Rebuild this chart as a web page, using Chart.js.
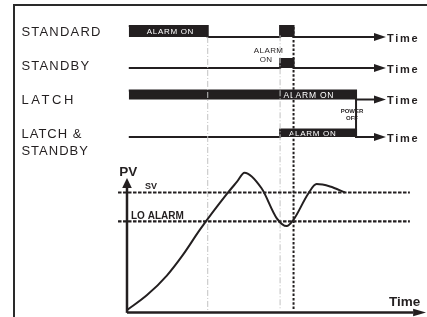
<!DOCTYPE html>
<html>
<head>
<meta charset="utf-8">
<script src="https://cdn.jsdelivr.net/npm/chart.js@4/dist/chart.umd.min.js"></script>
<style>
  html, body { margin: 0; padding: 0; background: #fff; }
  #wrap { position: relative; width: 427px; height: 317px; overflow: hidden; }
  #chart { position: absolute; left: 0; top: 0; }
  #frame { position: absolute; left: 13px; top: 4px; right: -4px; bottom: -4px;
           border-top: 2px solid #2a2a2a; border-left: 2px solid #2a2a2a; pointer-events: none; }
</style>
</head>
<body>
<div id="wrap">
  <canvas id="chart" width="427" height="317"></canvas>
  <div id="frame"></div>
</div>
<script>
// ---- timing rows (time in arbitrary units, 0 = start) ---- //
const rowLabels = ["STANDARD", "STANDBY", "LATCH", "LATCH &\nSTANDBY"];
const rowOn  = [[0.6, 51.2], [51.2], [0.6], [51.2]];
const rowOff = [[27, 55.7], [55.7], [76.6], [76.6]];
const rowStart = 0.6;
const rowEnd = 82.6;
const rowTip = 86.6;
const laneBase = [28, 24.9, 21.75, 18];
const laneHigh = [29.1, 25.8, 22.65, 18.75];
const barText = ["ALARM ON", null, "ALARM ON", "ALARM ON"];
const barTextTime = [14.4, null, 60.7, 62.0];

// ---- event markers ---- //
const guideTimes = [27, 51.2];
const resetTime = 55.7;
const powerOffTime = 76.6;

// ---- PV trace ---- //
const pvTime  = [0, 6.7, 13.4, 18.7, 24.4, 33.8, 36.8, 39.3, 45.0, 50.1, 53.4, 55.6, 60.6, 63.4, 67.9, 72.9];
const pvValue = [2, 14.5, 31, 48, 69, 100, 109, 116.5, 103.5, 78.5, 72, 77, 99, 107, 105, 100];
const svLevel = 100;
const loAlarmLevel = 76;
const axisEnd = 100;

const ink = "#231f20";
const font = '"Liberation Sans", Arial, sans-serif';

function signalPoints(i) {
    const ev = rowOn[i].map(t => [t, 1]).concat(rowOff[i].map(t => [t, 0]))
        .sort((a, b) => a[0] - b[0]);
    const lo = laneBase[i], hi = laneHigh[i];
    const pts = [];
    let state = 0;
    if (ev[0][0] > rowStart) pts.push({ x: rowStart, y: lo });
    for (const [t, s] of ev) {
        if (pts.length) pts.push({ x: t, y: state ? hi : lo });
        pts.push({ x: t, y: s ? hi : lo });
        state = s;
    }
    pts.push({ x: rowEnd, y: state ? hi : lo });
    return pts;
}

function seg(x1, y1, x2, y2, axis, extra) {
    return Object.assign({
        type: "line",
        data: [{ x: x1, y: y1 }, { x: x2, y: y2 }],
        xAxisID: "x", yAxisID: axis,
        borderColor: ink, borderWidth: 2,
        pointRadius: 0, fill: false, tension: 0
    }, extra || {});
}

const datasets = [];

rowLabels.forEach((name, i) => {
    datasets.push({
        type: "line",
        label: name,
        rowIndex: i,
        data: signalPoints(i),
        xAxisID: "x", yAxisID: "lane",
        borderColor: ink, borderWidth: 2,
        backgroundColor: ink,
        fill: { value: laneBase[i] },
        pointRadius: 0, tension: 0,
        order: 10
    });
});

// power off drop between LATCH and LATCH & STANDBY
datasets.push(seg(powerOffTime, laneBase[2], powerOffTime, laneBase[3], "lane", { order: 10 }));

// thin grey event guides
guideTimes.forEach((t, i) => {
    datasets.push(seg(t, i === 0 ? 229.6 : 231, t, 2.1, "pv",
        { borderColor: "#c2c2c2", borderWidth: 1, borderDash: [6, 2, 1, 2], order: 8 }));
});

// black dotted reset line
datasets.push(seg(resetTime, 237.9, resetTime, 2.1, "pv",
    { borderWidth: 2, borderDash: [2.5, 1.8], order: 1 }));

// SV and LO ALARM levels
[svLevel, loAlarmLevel].forEach(v => {
    datasets.push(seg(-3, v, 94.6, v, "pv", { borderWidth: 2.2, borderDash: [3.5, 1.5], order: 3 }));
});

// PV axes
datasets.push(seg(0, -0.3, 0, 103.75, "pv", { borderWidth: 2.5, order: 4 }));
datasets.push(seg(0, 0, 95.7, 0, "pv", { borderWidth: 2.5, order: 4 }));

// PV curve
datasets.push({
    type: "line",
    label: "PV",
    data: pvTime.map((t, i) => ({ x: t, y: pvValue[i] })),
    xAxisID: "x", yAxisID: "pv",
    borderColor: ink, borderWidth: 2,
    pointRadius: 0, fill: false,
    cubicInterpolationMode: "monotone",
    order: 2
});

function drawText(ctx, str, x, y, size, opts) {
    opts = opts || {};
    const sp = opts.spacing || 0;
    ctx.save();
    ctx.font = (opts.bold ? "bold " : "") + size + "px " + font;
    ctx.fillStyle = opts.color || ink;
    ctx.letterSpacing = sp + "px";
    ctx.textAlign = "left";
    ctx.textBaseline = "alphabetic";
    const w = ctx.measureText(str).width - sp;
    const x0 = opts.align === "center" ? x - w / 2 : x;
    ctx.fillText(str, x0, y + size * 0.716 / 2);
    ctx.restore();
}

function tri(ctx, pts) {
    ctx.save();
    ctx.fillStyle = ink;
    ctx.beginPath();
    ctx.moveTo(pts[0], pts[1]);
    ctx.lineTo(pts[2], pts[3]);
    ctx.lineTo(pts[4], pts[5]);
    ctx.closePath();
    ctx.fill();
    ctx.restore();
}

const labelLane = [28.57, 25.17, 21.73, 18.33];
const labelSpacing = [1.2, 1.2, 2.6, 1.0];

const diagramPlugin = {
    id: "diagram",
    afterDatasetDraw(chart, args) {
        const ds = chart.data.datasets[args.index];
        if (ds.rowIndex === undefined) return;
        const i = ds.rowIndex;
        if (!barText[i]) return;
        const X = chart.scales.x, L = chart.scales.lane;
        const y = L.getPixelForValue((laneBase[i] + laneHigh[i]) / 2);
        const big = i === 2;
        drawText(chart.ctx, barText[i], X.getPixelForValue(barTextTime[i]), y,
            big ? 8.5 : 8, { color: "#fff", spacing: big ? 0.8 : 0.7, align: "center" });
    },
    afterDatasetsDraw(chart) {
        const ctx = chart.ctx;
        const X = chart.scales.x, L = chart.scales.lane, P = chart.scales.pv;
        const xp = v => X.getPixelForValue(v);
        const lp = v => L.getPixelForValue(v);
        const pp = v => P.getPixelForValue(v);

        // row names
        const labelX = xp(-35.3);
        rowLabels.forEach((name, i) => {
            name.split("\n").forEach((line, k) => {
                drawText(ctx, line, labelX, lp(labelLane[i] - k * 1.71), 13, { spacing: labelSpacing[i] });
            });
        });

        // row arrows and "Time"
        laneBase.forEach(b => {
            const y = lp(b);
            tri(ctx, [xp(rowEnd), y - 4, xp(rowTip), y, xp(rowEnd), y + 4]);
            drawText(ctx, "Time", xp(86.96), y + 1, 11, { bold: true, spacing: 1.7 });
        });

        // STANDBY alarm note
        drawText(ctx, "ALARM", xp(47.3), lp(26.67), 8, { spacing: 0.4, align: "center" });
        drawText(ctx, "ON", xp(46.45), lp(25.8), 8, { spacing: 0.4, align: "center" });

        // power off note
        drawText(ctx, "POWER", xp(75.25), lp(20.6), 6, { bold: true, align: "center" });
        drawText(ctx, "OFF", xp(75.25), lp(19.87), 6, { bold: true, align: "center" });

        // PV axis arrows
        const x0 = xp(0), y0 = pp(0);
        tri(ctx, [x0 - 4.8, pp(103.75), x0, pp(112.1), x0 + 4.8, pp(103.75)]);
        tri(ctx, [xp(95.7), y0 - 3.8, xp(axisEnd), y0, xp(95.7), y0 + 3.8]);

        drawText(ctx, "PV", xp(-2.6), pp(118.1), 13.5, { bold: true });
        drawText(ctx, "SV", xp(6.0), pp(105.7), 9, { bold: true });
        drawText(ctx, "LO ALARM", xp(1.34), pp(81.25), 10, { bold: true });
        drawText(ctx, "Time", xp(87.6), pp(9.2), 13.5, { bold: true });
    }
};

const ctx = document.getElementById("chart");
new Chart(ctx, {
    data: { datasets: datasets },
    options: {
        responsive: false,
        devicePixelRatio: 1,
        animation: false,
        layout: { padding: 0 },
        plugins: { legend: { display: false }, tooltip: { enabled: false } },
        scales: {
            x: { type: "linear", min: -42.47, max: 100.33, display: false },
            lane: { type: "linear", min: 0, max: 31.7, display: false },
            pv: { type: "linear", min: -3.75, max: 260.4, display: false }
        }
    },
    plugins: [diagramPlugin]
});
</script>
</body>
</html>
